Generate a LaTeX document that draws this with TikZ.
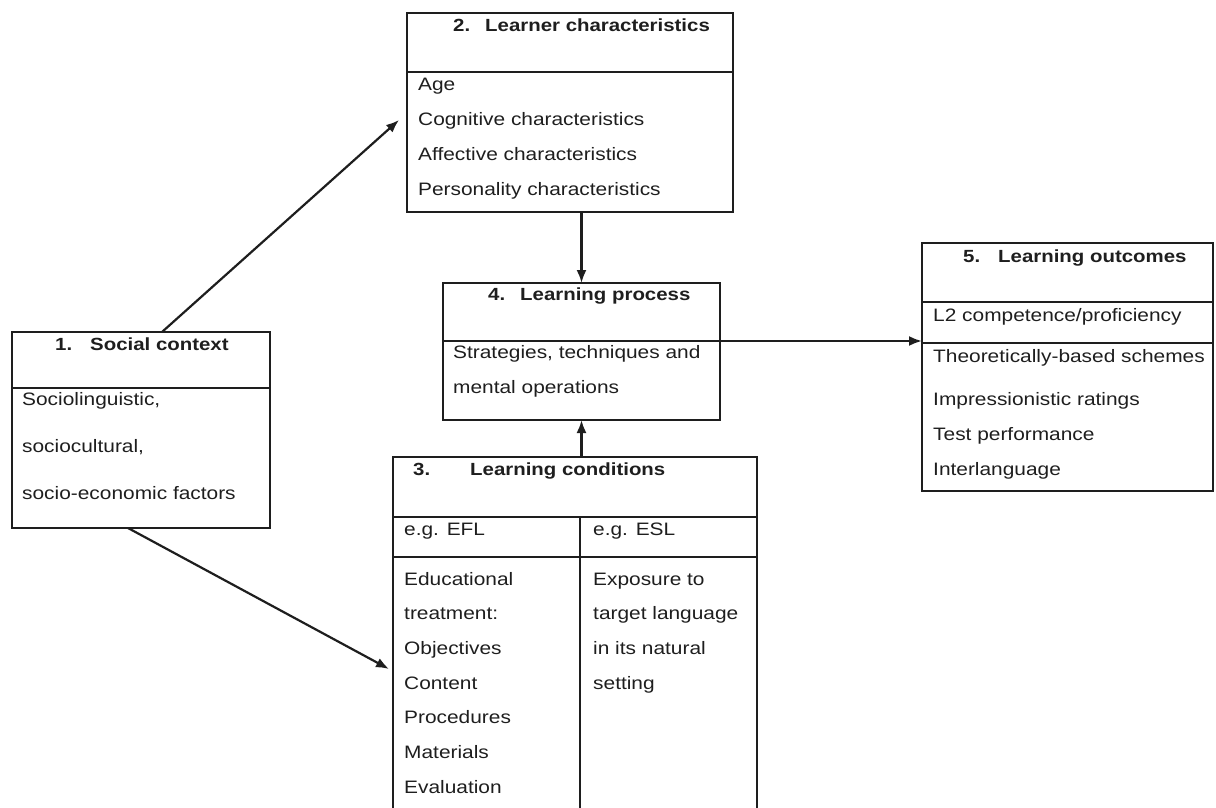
\documentclass[tikz,border=0pt]{standalone}
\usepackage{fontspec}
\setmainfont{Liberation Sans}[FakeStretch=1.16]
\usetikzlibrary{arrows.meta,positioning}
\definecolor{ink}{HTML}{1E1E1E}
\tikzset{cell/.style={draw=ink,line width=1.6pt,rectangle,inner sep=0,outer sep=0,anchor=north west},
    heading/.style={anchor=base west,inner sep=0,font=\fontsize{17.6}{22}\selectfont\bfseries},
    entry/.style={anchor=base west,inner sep=0,font=\fontsize{18}{22}\selectfont},
    link/.style={draw=ink,line width=2.2pt,-{Latex[length=13pt,width=10pt]}}}
\newcommand{\itemno}[2]{\makebox[#1][l]{#2}}

\begin{document}
\begin{tikzpicture}[x=1pt,y=-1pt,text=ink]
\useasboundingbox (0,0) rectangle (1216,808);

\node (schead) [cell,minimum width=258pt,minimum height=56pt] at (12,332) {};
\node (scbody) [cell,minimum width=258pt,minimum height=140pt] at (schead.south west) {};
\node (sctitle) [heading] at (55,350) {\itemno{35pt}{1.}Social context};
\foreach \t [count=\i] in {{Sociolinguistic,},{sociocultural,},{socio-economic factors}}
    \node (sc\i) [entry] at (22,358+47*\i) {\t};

\node (lchead) [cell,minimum width=326pt,minimum height=59pt] at (407,13) {};
\node (lcbody) [cell,minimum width=326pt,minimum height=140pt] at (lchead.south west) {};
\node (lctitle) [heading] at (453,32) {\itemno{32pt}{2.}Learner characteristics};
\foreach \t [count=\i] in {Age,Cognitive characteristics,Affective characteristics,Personality characteristics}
    \node (lc\i) [entry] at (418,55+35*\i) {\t};

\node (lphead) [cell,minimum width=277pt,minimum height=58pt] at (443,283) {};
\node (lpbody) [cell,minimum width=277pt,minimum height=79pt] at (lphead.south west) {};
\node (lptitle) [heading] at (488,300) {\itemno{32pt}{4.}Learning process};
\node (lp1) [entry] at (453,358) {Strategies, techniques and};
\node (lp2) [entry] at (453,393) {mental operations};

\node (lohead) [cell,minimum width=291pt,minimum height=59pt] at (922,243) {};
\node (lol2) [cell,minimum width=291pt,minimum height=41pt] at (lohead.south west) {};
\node (lobody) [cell,minimum width=291pt,minimum height=148pt] at (lol2.south west) {};
\node (lotitle) [heading] at (963,262) {\itemno{35pt}{5.}Learning outcomes};
\node (lo0) [entry] at (933,321) {L2 competence/proficiency};
\node (lo1) [entry] at (933,362) {Theoretically-based schemes};
\node (lo2) [entry] at (933,405) {Impressionistic ratings};
\node (lo3) [entry] at (933,440) {Test performance};
\node (lo4) [entry] at (933,475) {Interlanguage};

\node (cdhead) [cell,minimum width=364pt,minimum height=60pt] at (393,457) {};
\node (cdefl) [cell,minimum width=187pt,minimum height=40pt] at (cdhead.south west) {};
\node (cdesl) [cell,minimum width=177pt,minimum height=40pt] at (cdefl.north east) {};
\node (cdeflbody) [cell,minimum width=187pt,minimum height=254pt] at (cdefl.south west) {};
\node (cdeslbody) [cell,minimum width=177pt,minimum height=254pt] at (cdeflbody.north east) {};
\node (cdtitle) [heading] at (413,475) {\itemno{57pt}{3.}Learning conditions};
\node (efl) [entry] at (404,535) {e.g. EFL};
\node (esl) [entry] at (593,535) {e.g. ESL};
\foreach \t [count=\i] in {Educational,treatment:,Objectives,Content,Procedures,Materials,Evaluation}
    \node (efl\i) [entry] at (404,550.3+34.7*\i) {\t};
\foreach \t [count=\i] in {Exposure to,target language,in its natural,setting}
    \node (esl\i) [entry] at (593,550.3+34.7*\i) {\t};

\draw [link] ([xshift=21pt]schead.north) -- ([xshift=-8pt,yshift=22pt]lcbody.west);
\draw [link] ([xshift=-13pt]scbody.south) -- ([xshift=-4pt,yshift=15pt]cdeflbody.west);
\draw [link] (lcbody.south -| lphead.north) -- (lphead.north);
\draw [link] (cdhead.north -| lpbody.south) -- (lpbody.south);
\draw [link] (lpbody.north east) -- (lpbody.north east -| lobody.west);

\end{tikzpicture}
\end{document}
